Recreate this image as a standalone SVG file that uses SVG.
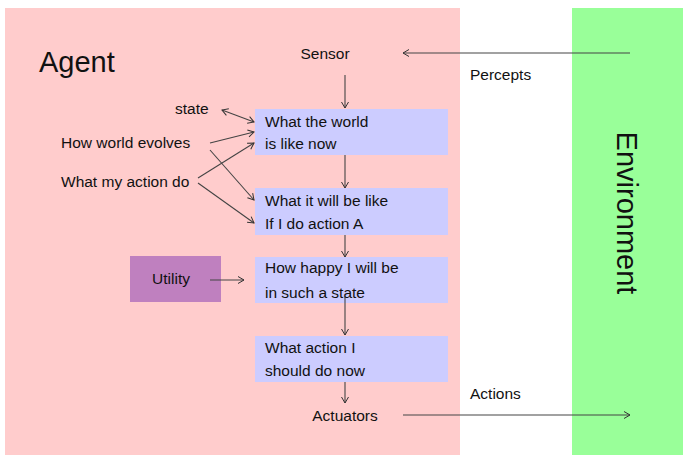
<svg xmlns="http://www.w3.org/2000/svg" width="683" height="458" viewBox="0 0 683 458">
<defs>
<marker id="ah" markerWidth="10" markerHeight="10" refX="8" refY="5" orient="auto-start-reverse" markerUnits="userSpaceOnUse">
<path d="M2,1.5 L8,5 L2,8.5" fill="none" stroke="#333" stroke-width="1"/>
</marker>
<style>
text{font-family:"Liberation Sans",Arial,sans-serif;fill:#111;font-size:15.5px}
.box{fill:#ccccff}
.c line{stroke:#444;stroke-width:1.1;fill:none;marker-end:url(#ah)}
</style>
</defs>
<rect x="0" y="0" width="683" height="458" fill="#fff"/>
<g id="agent"><rect x="5" y="8" width="455" height="447" fill="#ffcccc"/><text x="39" y="72" style="font-size:29px">Agent</text></g>
<g id="environment"><rect x="572" y="8" width="111" height="447" fill="#99ff99"/><text transform="translate(617,213) rotate(90)" text-anchor="middle" style="font-size:29px">Environment</text></g>
<g id="sensor"><text x="325" y="59" text-anchor="middle">Sensor</text></g>
<g id="percepts"><text x="470" y="80">Percepts</text></g>
<g id="actions"><text x="470" y="399">Actions</text></g>
<g id="state"><text x="175" y="114">state</text></g>
<g id="evolves"><text x="61" y="148">How world evolves</text></g>
<g id="myaction"><text x="61" y="187">What my action do</text></g>
<g id="b1"><rect class="box" x="255" y="109" width="193" height="46"/><text x="265" y="127">What the world</text><text x="265" y="149">is like now</text></g>
<g id="b2"><rect class="box" x="255" y="188" width="193" height="47"/><text x="265" y="206">What it will be like</text><text x="265" y="229">If I do action A</text></g>
<g id="b3"><rect class="box" x="255" y="257" width="193" height="46"/><text x="265" y="273">How happy I will be</text><text x="265" y="298">in such a state</text></g>
<g id="b4"><rect class="box" x="255" y="336" width="193" height="46"/><text x="265" y="353">What action I</text><text x="265" y="376">should do now</text></g>
<g id="utility"><rect x="130" y="256" width="91" height="46" fill="#bf80bf"/><text x="171" y="284" text-anchor="middle">Utility</text></g>
<g id="actuators"><text x="345" y="421" text-anchor="middle">Actuators</text></g>
<g class="c" id="connectors">
<line x1="630" y1="53" x2="403" y2="53"/>
<line x1="345" y1="75" x2="345" y2="108"/>
<line x1="345" y1="155" x2="345" y2="188"/>
<line x1="345" y1="235" x2="345" y2="257"/>
<line x1="345" y1="296" x2="345" y2="335"/>
<line x1="345" y1="382" x2="345" y2="403"/>
<line x1="403" y1="415" x2="630" y2="415"/>
<line x1="210" y1="280" x2="244" y2="280"/>
<line x1="222" y1="110" x2="254" y2="122" style="marker-start:url(#ah)"/>
<line x1="210" y1="143" x2="254" y2="132"/>
<line x1="210" y1="150" x2="254" y2="200"/>
<line x1="198" y1="178" x2="254" y2="143"/>
<line x1="198" y1="183" x2="254" y2="223"/>
</g>
</svg>
